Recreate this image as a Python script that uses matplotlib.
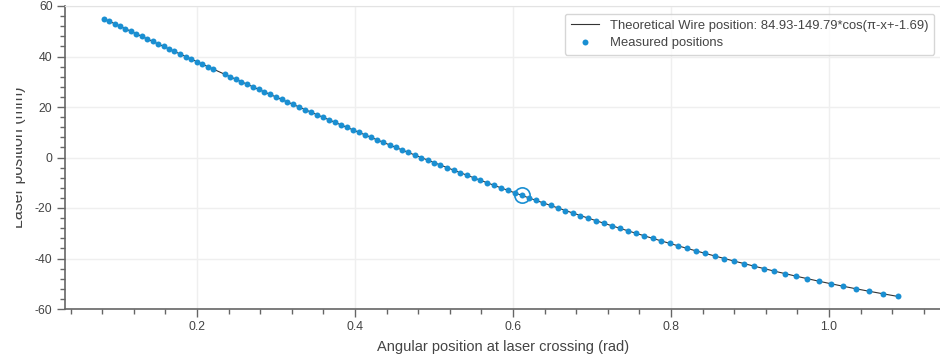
import matplotlib
matplotlib.use("Agg")
import matplotlib.pyplot as plt
from matplotlib.ticker import MultipleLocator, AutoMinorLocator
from matplotlib.patches import Rectangle

plt.rcParams['font.family'] = ['Liberation Sans', 'DejaVu Sans']
plt.rcParams['axes.unicode_minus'] = False

# laser position (mm), one point per mm
laser_pos = list(range(55, -56, -1))

# angular position at laser crossing (rad)
angle = [
    0.0820, 0.0888, 0.0956, 0.1025, 0.1093, 0.1162, 0.1230, 0.1299, 0.1368, 0.1437, 0.1506,
    0.1576, 0.1645, 0.1715, 0.1785, 0.1855, 0.1925, 0.1995, 0.2065, 0.2136, 0.2206,
    0.2277, 0.2348, 0.2420, 0.2491, 0.2563, 0.2635, 0.2707, 0.2779, 0.2852, 0.2924,
    0.2997, 0.3070, 0.3144, 0.3218, 0.3292, 0.3366, 0.3440, 0.3515, 0.3590, 0.3665,
    0.3741, 0.3817, 0.3893, 0.3970, 0.4047, 0.4124, 0.4202, 0.4280, 0.4358, 0.4437,
    0.4516, 0.4595, 0.4675, 0.4756, 0.4837, 0.4918, 0.5000, 0.5082, 0.5165, 0.5248,
    0.5331, 0.5416, 0.5501, 0.5586, 0.5672, 0.5759, 0.5846, 0.5934, 0.6023, 0.6112,
    0.6202, 0.6292, 0.6384, 0.6477, 0.6570, 0.6664, 0.6759, 0.6854, 0.6951, 0.7048,
    0.7147, 0.7247, 0.7349, 0.7451, 0.7555, 0.7660, 0.7766, 0.7873, 0.7982, 0.8092,
    0.8204, 0.8319, 0.8435, 0.8554, 0.8674, 0.8797, 0.8922, 0.9048, 0.9177, 0.9308,
    0.9444, 0.9583, 0.9727, 0.9873, 1.0024, 1.0181, 1.0343, 1.0512, 1.0687, 1.0867,
]

# one position has no measured dot
missing = [34]

# highlighted point
hl_x = [0.6112]
hl_y = [-15]

legend_line = "Theoretical Wire position: 84.93-149.79*cos(π-x+-1.69)"
legend_dots = "Measured positions"

blue = "#1a8fd2"
grey = "#666666"

fig = plt.figure(figsize=(9.4, 3.58), dpi=100)
ax = fig.add_axes([65 / 940, 49 / 358, 877 / 940, 303 / 358])

meas_x = [a for a, p in zip(angle, laser_pos) if p not in missing]
meas_y = [p for p in laser_pos if p not in missing]

ax.plot(angle, laser_pos, color="#333333", lw=0.8, label=legend_line, zorder=2)
ax.plot(meas_x, meas_y, "o", color=blue, ms=4.3, mew=0, label=legend_dots, zorder=3)
ax.plot(hl_x, hl_y, "o", mfc="none", mec=blue, ms=11, mew=1.2, zorder=4)

ax.set_xlim(0.0329, 1.143)
ax.set_ylim(-60, 60)
ax.xaxis.set_major_locator(MultipleLocator(0.2))
ax.xaxis.set_minor_locator(AutoMinorLocator(5))
ax.yaxis.set_major_locator(MultipleLocator(20))
ax.yaxis.set_minor_locator(AutoMinorLocator(5))
ax.set_xticks([0.2, 0.4, 0.6, 0.8, 1.0])
ax.set_xticklabels(["0.2", "0.4", "0.6", "0.8", "1.0"])

ax.grid(True, which="major", color="#efefef", lw=1)
ax.set_axisbelow(True)

for s in ["left", "bottom"]:
    ax.spines[s].set_color(grey)
    ax.spines[s].set_linewidth(1.2)
ax.spines["top"].set_color("#e3e3e3")
ax.spines["right"].set_color("#e3e3e3")

ax.tick_params(which="major", direction="out", length=6, width=1, color=grey,
               labelcolor="#444444", labelsize=8.8, pad=3)
ax.tick_params(which="minor", direction="out", length=3.5, width=1, color=grey)

ax.set_xlabel("Angular position at laser crossing (rad)", fontsize=10.5, color="#444444", labelpad=5)
ax.set_ylabel("Laser position (mm)", fontsize=11.5, color="#444444")
ax.yaxis.set_label_coords(-0.0445, 0.5)

# the y label is cut off on its left half in the original
fig.add_artist(Rectangle((0, 0), 15.5 / 940, 1, transform=fig.transFigure,
                         facecolor="white", edgecolor="none", zorder=10))

leg = ax.legend(loc="upper right", fontsize=9.4, frameon=True, fancybox=True,
                edgecolor="#cccccc", handlelength=2.2, borderaxespad=0.6,
                labelspacing=0.4, borderpad=0.45)
for t in leg.get_texts():
    t.set_color("#444444")

plt.savefig("out.png", dpi=100)
